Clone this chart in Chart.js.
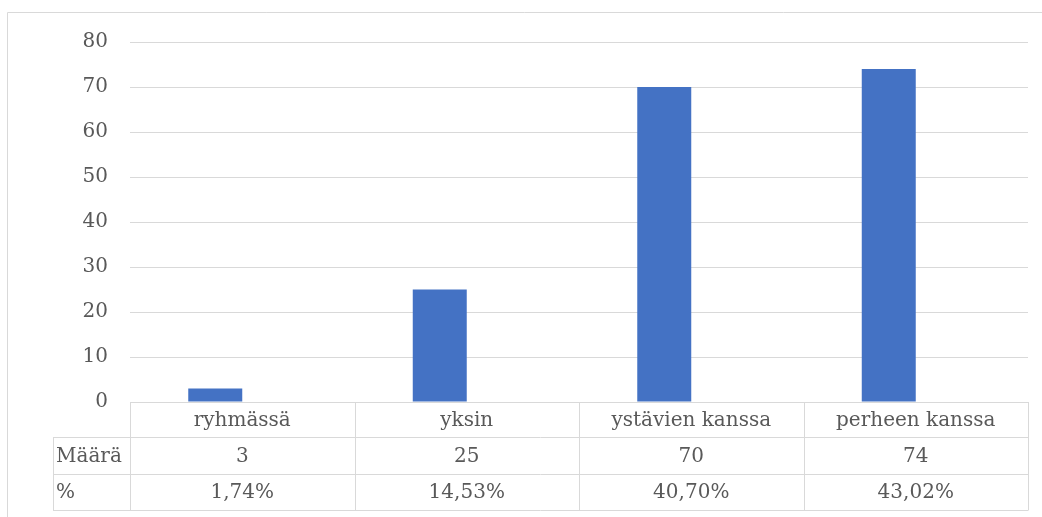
<!DOCTYPE html>
<html>
<head>
<meta charset="utf-8">
<script src="https://cdn.jsdelivr.net/npm/chart.js@4"></script>
<style>
  html, body { margin: 0; padding: 0; background: #fff; }
  #wrap { width: 1042px; height: 517px; position: relative; }
</style>
</head>
<body>
<div id="wrap"><canvas id="chart"></canvas></div>
<script>
const categories = ['ryhmässä', 'yksin', 'ystävien kanssa', 'perheen kanssa'];
const maaraValues = [3, 25, 70, 74];
const percentValues = [1.74, 14.53, 40.70, 43.02];
const rowLabels = ['Määrä', '%'];

const FONT = '"DejaVu Serif", serif';
const TEXT = '#595959';
const LINE = '#d9d9d9';

const fmtPct = v => v.toFixed(2).replace('.', ',') + '%';

// frame + data table under the plot
const tablePlugin = {
  id: 'dataTable',
  beforeDraw(chart) {
    const ctx = chart.ctx;
    ctx.save();
    ctx.strokeStyle = LINE;
    ctx.lineWidth = 1;
    ctx.beginPath();
    ctx.moveTo(7.5, 517);
    ctx.lineTo(7.5, 12.5);
    ctx.lineTo(1042, 12.5);
    ctx.stroke();
    ctx.restore();
  },
  afterDraw(chart) {
    const ctx = chart.ctx;
    const x = chart.scales.x;
    const top = chart.chartArea.bottom;
    const rows = [top, 437, 474, 510];
    const labelLeft = 53;
    const colW = (x.right - x.left) / categories.length;

    ctx.save();
    ctx.strokeStyle = LINE;
    ctx.lineWidth = 1;
    ctx.beginPath();
    // horizontal lines
    ctx.moveTo(x.left, rows[0] + 0.5); ctx.lineTo(x.right, rows[0] + 0.5);
    for (let r = 1; r < rows.length; r++) {
      ctx.moveTo(labelLeft, rows[r] + 0.5); ctx.lineTo(x.right, rows[r] + 0.5);
    }
    // vertical lines
    for (let i = 0; i <= categories.length; i++) {
      const px = Math.round(x.left + i * colW) + 0.5;
      ctx.moveTo(px, rows[0]); ctx.lineTo(px, rows[3] + 0.5);
    }
    ctx.moveTo(labelLeft + 0.5, rows[1]); ctx.lineTo(labelLeft + 0.5, rows[3] + 0.5);
    ctx.stroke();

    ctx.fillStyle = TEXT;
    ctx.font = '20px ' + FONT;
    ctx.textBaseline = 'middle';
    ctx.textAlign = 'center';
    categories.forEach((c, i) => {
      const cx = x.getPixelForValue(i);
      ctx.fillText(c, cx, (rows[0] + rows[1]) / 2 + 1);
      ctx.fillText(String(maaraValues[i]), cx, (rows[1] + rows[2]) / 2 + 1);
      ctx.fillText(fmtPct(percentValues[i]), cx, (rows[2] + rows[3]) / 2 + 1);
    });
    ctx.textAlign = 'left';
    ctx.fillText(rowLabels[0], labelLeft + 3, (rows[1] + rows[2]) / 2 + 1);
    ctx.fillText(rowLabels[1], labelLeft + 3, (rows[2] + rows[3]) / 2 + 1);
    ctx.restore();
  }
};

new Chart(document.getElementById('chart'), {
  type: 'bar',
  data: {
    labels: categories,
    datasets: [
      {
        label: 'Määrä',
        data: maaraValues,
        backgroundColor: '#4472c4',
        borderWidth: 0,
        barPercentage: 1,
        categoryPercentage: 0.481,
      },
      {
        // second series takes the right half of each slot, drawn without fill
        label: '%',
        data: percentValues.map(v => v / 100),
        backgroundColor: 'rgba(0,0,0,0)',
        borderWidth: 0,
        barPercentage: 1,
        categoryPercentage: 0.481,
      },
    ],
  },
  options: {
    responsive: true,
    maintainAspectRatio: false,
    animation: false,
    devicePixelRatio: 1,
    layout: { padding: { top: 42, right: 14, bottom: 115, left: 0 } },
    plugins: {
      legend: { display: false },
      tooltip: { enabled: false },
    },
    scales: {
      x: {
        display: false,
        grid: { display: false },
      },
      y: {
        min: 0,
        max: 80,
        afterFit: s => { s.width = 130; },
        border: { display: false },
        grid: { color: LINE, lineWidth: 1, drawTicks: false },
        ticks: {
          stepSize: 10,
          padding: 22,
          color: TEXT,
          font: { family: FONT, size: 20 },
        },
      },
    },
  },
  plugins: [tablePlugin],
});
</script>
</body>
</html>
